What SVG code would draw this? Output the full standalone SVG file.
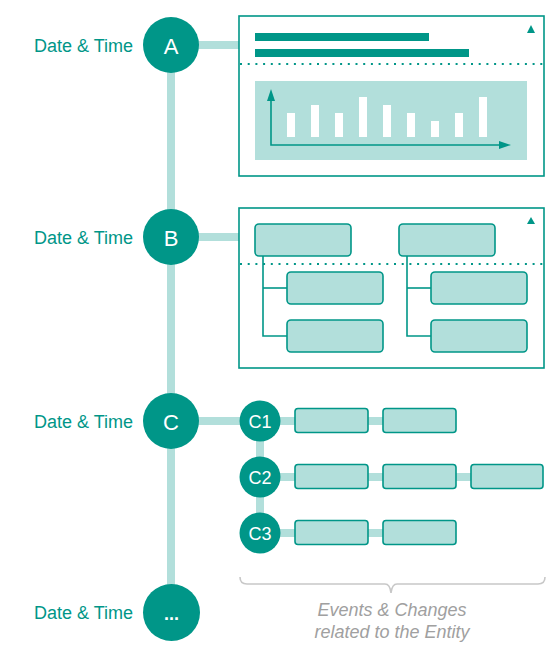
<svg xmlns="http://www.w3.org/2000/svg" width="559" height="657" viewBox="0 0 559 657">
<style>
.lbl{font-family:"Liberation Sans",Arial,sans-serif;font-size:18px;fill:#009688;text-anchor:end}
.cl{font-family:"Liberation Sans",Arial,sans-serif;font-size:22px;fill:#fff;text-anchor:middle}
.cs{font-family:"Liberation Sans",Arial,sans-serif;font-size:18px;fill:#fff;text-anchor:middle}
.cap{font-family:"Liberation Sans",Arial,sans-serif;font-size:18px;font-style:italic;fill:#a0a0a0;text-anchor:middle}
.main{fill:#009688}
.sub{fill:#009688}
.panel{fill:#fff;stroke:#009688;stroke-width:1.6}
.dots{stroke:#009688;stroke-width:2;stroke-dasharray:2 5.7;fill:none}
.ibox{fill:#b2dfdb;stroke:#009688;stroke-width:1.6}
.tree{fill:none;stroke:#009688;stroke-width:1.6}
.link{stroke:#b2dfdb;stroke-width:8;fill:none}
.tri{fill:#009688}
</style>
<g id="connectors">
<line class="link" x1="171" y1="45" x2="171" y2="590"/>
<line class="link" x1="171" y1="45" x2="240" y2="45"/>
<line class="link" x1="171" y1="237" x2="240" y2="237"/>
<line class="link" x1="171" y1="421" x2="245" y2="421"/>
<line class="link" x1="260" y1="421" x2="260" y2="533"/>
<line class="link" x1="275" y1="421" x2="456" y2="421"/>
<line class="link" x1="275" y1="477" x2="543" y2="477"/>
<line class="link" x1="275" y1="533" x2="456" y2="533"/>
</g>
<g id="label-a"><text class="lbl" x="133" y="52">Date &amp; Time</text></g>
<g id="label-b"><text class="lbl" x="133" y="244">Date &amp; Time</text></g>
<g id="label-c"><text class="lbl" x="133" y="428">Date &amp; Time</text></g>
<g id="label-d"><text class="lbl" x="133" y="619">Date &amp; Time</text></g>
<g id="node-a"><circle class="main" cx="171" cy="45" r="28"/><text class="cl" x="171" y="53.5">A</text></g>
<g id="node-b"><circle class="main" cx="171" cy="237" r="28"/><text class="cl" x="171" y="245.5">B</text></g>
<g id="node-c"><circle class="main" cx="171" cy="421" r="28"/><text class="cl" x="171" y="429.5">C</text></g>
<g id="node-more"><circle class="main" cx="171.5" cy="612.5" r="28.5"/><text class="cs" x="171.5" y="620" font-weight="bold">...</text></g>
<g id="panel-a">
<rect class="panel" x="239" y="16" width="305" height="160"/>
<rect x="255" y="33" width="174" height="8" fill="#009688"/>
<rect x="255" y="49" width="214" height="8" fill="#009688"/>
<line class="dots" x1="240" y1="64" x2="544" y2="64"/>
<polygon class="tri" points="527,33 531,25 535,33"/>
<rect x="255" y="81" width="272" height="79" fill="#b2dfdb"/>
<g fill="#fff">
<rect x="287" y="113" width="8" height="24"/>
<rect x="311" y="105" width="8" height="32"/>
<rect x="335" y="113" width="8" height="24"/>
<rect x="359" y="97" width="8" height="40"/>
<rect x="383" y="105" width="8" height="32"/>
<rect x="407" y="113" width="8" height="24"/>
<rect x="431" y="121" width="8" height="16"/>
<rect x="455" y="113" width="8" height="24"/>
<rect x="479" y="97" width="8" height="40"/>
</g>
<polyline points="271,99 271,145 501,145" fill="none" stroke="#009688" stroke-width="1.6"/>
<polygon class="tri" points="267,101 271,89 275,101"/>
<polygon class="tri" points="499,141 511,145 499,149"/>
</g>
<g id="panel-b">
<rect class="panel" x="239" y="208" width="305" height="160"/>
<line class="dots" x1="240" y1="264" x2="544" y2="264"/>
<polygon class="tri" points="527,224 531,217 535,224"/>
<polyline class="tree" points="263,256 263,336 287,336"/>
<line class="tree" x1="263" y1="288" x2="287" y2="288"/>
<polyline class="tree" points="407,256 407,336 431,336"/>
<line class="tree" x1="407" y1="288" x2="431" y2="288"/>
<rect class="ibox" x="255" y="224" width="96" height="32" rx="4"/>
<rect class="ibox" x="399" y="224" width="96" height="32" rx="4"/>
<rect class="ibox" x="287" y="272" width="96" height="32" rx="4"/>
<rect class="ibox" x="287" y="320" width="96" height="32" rx="4"/>
<rect class="ibox" x="431" y="272" width="96" height="32" rx="4"/>
<rect class="ibox" x="431" y="320" width="96" height="32" rx="4"/>
</g>
<g id="node-c1"><circle class="sub" cx="260" cy="421" r="20.5"/><text class="cs" x="260" y="427.5">C1</text></g>
<g id="node-c2"><circle class="sub" cx="260" cy="477" r="20.5"/><text class="cs" x="260" y="483.5">C2</text></g>
<g id="node-c3"><circle class="sub" cx="260" cy="533" r="20.5"/><text class="cs" x="260" y="539.5">C3</text></g>
<g id="events">
<rect class="ibox" x="295" y="408.5" width="73" height="24" rx="3"/>
<rect class="ibox" x="383" y="408.5" width="73" height="24" rx="3"/>
<rect class="ibox" x="295" y="464.5" width="73" height="24" rx="3"/>
<rect class="ibox" x="383" y="464.5" width="73" height="24" rx="3"/>
<rect class="ibox" x="471" y="464.5" width="72" height="24" rx="3"/>
<rect class="ibox" x="295" y="520.5" width="73" height="24" rx="3"/>
<rect class="ibox" x="383" y="520.5" width="73" height="24" rx="3"/>
</g>
<g id="brace">
<path d="M240,577 Q240,584 247,584 L385,584 Q390,584 391,593 Q392,584 397,584 L538,584 Q545,584 545,577" fill="none" stroke="#c8c8c8" stroke-width="1.6"/>
<text class="cap" x="392" y="616">Events &amp; Changes</text>
<text class="cap" x="392" y="638">related to the Entity</text>
</g>
</svg>
